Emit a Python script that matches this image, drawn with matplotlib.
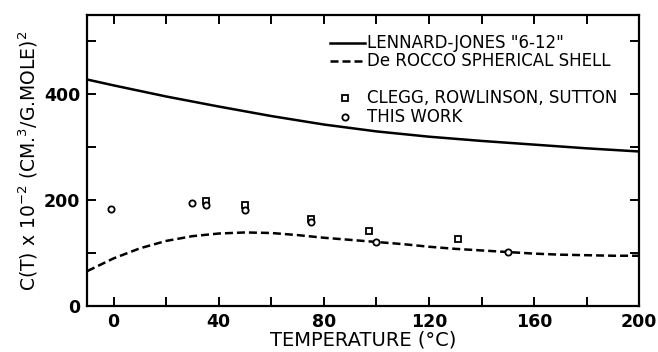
import matplotlib
matplotlib.use("Agg")
import matplotlib.pyplot as plt
import numpy as np
from matplotlib.ticker import MultipleLocator

# Lennard-Jones "6-12" curve
lj_t = [-10, 0, 20, 40, 60, 80, 100, 120, 140, 160, 180, 200]
lj_c = [428, 417, 396, 377, 359, 343, 330, 320, 312, 305, 298, 292]

# De Rocco spherical shell curve
dr_t = [-10, 0, 10, 20, 30, 40, 50, 60, 70, 80, 90, 100, 110, 120, 130, 140, 150, 160, 170, 180, 190, 200]
dr_c = [66, 90, 109, 123, 132, 137, 139, 138, 134, 129, 125, 121, 117, 112, 108, 105, 102, 99, 97, 96, 95, 95]

# Clegg, Rowlinson, Sutton
crs_t = [35, 50, 75, 97, 131]
crs_c = [199, 190, 165, 142, 126]

# This work
tw_t = [-1, 30, 35, 50, 75, 100, 150]
tw_c = [184, 194, 191, 182, 158, 121, 102]

xticks = [0, 40, 80, 120, 160, 200]
yticks = [0, 200, 400]

plt.rcParams['font.family'] = ['DejaVu Sans']
fig = plt.figure(figsize=(6.58, 3.52), dpi=100)
W, H = 658, 352
ax = fig.add_axes([87.3 / W, 1 - 306 / H, (639.3 - 87.3) / W, (306 - 15) / H])

ax.plot(lj_t, lj_c, color='black', lw=1.8, solid_capstyle='butt')
ax.plot(dr_t, dr_c, color='black', lw=1.8, ls=(0, (3.2, 1.6)))
ax.plot(crs_t, crs_c, ls='none', marker='s', ms=4.5, mfc='white', mec='black', mew=1.3)
ax.plot(tw_t, tw_c, ls='none', marker='o', ms=4.5, mfc='white', mec='black', mew=1.3)

ax.set_xlim(-10, 200)
ax.set_ylim(0, 550)
ax.set_xticks(xticks)
ax.set_yticks(yticks)
ax.xaxis.set_minor_locator(MultipleLocator(20))
ax.yaxis.set_minor_locator(MultipleLocator(100))
ax.tick_params(which='both', direction='in', top=True, right=True, length=6.5, width=1.4,
               labelsize=12.5, pad=5)
ax.tick_params(axis='x', pad=5)
for lab in ax.get_xticklabels() + ax.get_yticklabels():
    lab.set_fontweight('bold')
for s in ax.spines.values():
    s.set_linewidth(1.6)

ax.set_xlabel('TEMPERATURE (°C)', fontsize=14, labelpad=0)
ax.set_ylabel(r'C(T) x 10$^{-2}$ (CM.$^3$/G.MOLE)$^2$', fontsize=13.5, labelpad=3)

def px(x, y):
    return (x / W, 1 - y / H)

tr = fig.transFigure
fs = 12
fig.add_artist(plt.Line2D([330 / W, 365 / W], [1 - 42.7 / H] * 2, color='black', lw=1.8, transform=tr))
fig.add_artist(plt.Line2D([330 / W, 365 / W], [1 - 60.7 / H] * 2, color='black', lw=1.8,
                          ls=(0, (3.2, 1.6)), transform=tr))
fig.text(*px(367, 43), 'LENNARD-JONES "6-12"', fontsize=fs, va='center', ha='left')
fig.text(*px(367, 61), 'De ROCCO SPHERICAL SHELL', fontsize=fs, va='center', ha='left')
fig.add_artist(plt.Line2D([345 / W], [1 - 98.3 / H], ls='none', marker='s', ms=4.5, mfc='white',
                          mec='black', mew=1.3, transform=tr))
fig.add_artist(plt.Line2D([345 / W], [1 - 116.7 / H], ls='none', marker='o', ms=4.5, mfc='white',
                          mec='black', mew=1.3, transform=tr))
fig.text(*px(367, 98.3), 'CLEGG, ROWLINSON, SUTTON', fontsize=fs, va='center', ha='left')
fig.text(*px(367, 116.7), 'THIS WORK', fontsize=fs, va='center', ha='left')

fig.savefig('out.png', dpi=100)
